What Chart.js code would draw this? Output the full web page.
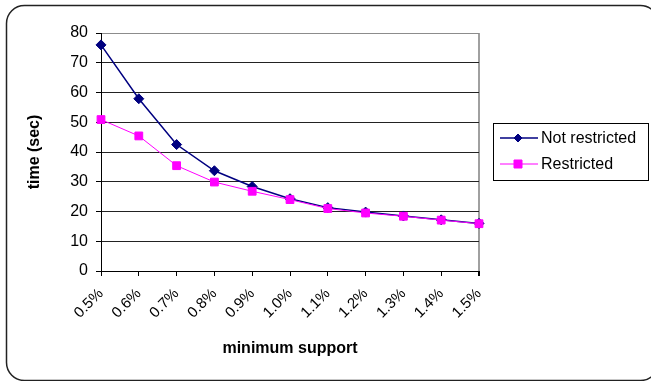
<!DOCTYPE html>
<html>
<head>
<meta charset="utf-8">
<script src="https://cdn.jsdelivr.net/npm/chart.js@4.4.1/dist/chart.umd.min.js"></script>
<style>
    html, body { margin: 0; padding: 0; background: #fff; }
</style>
</head>
<body>
<canvas id="tiempoChart" width="651" height="381"></canvas>
<script>
// minimum support levels on the x axis
const supportLevels = ['0.5%', '0.6%', '0.7%', '0.8%', '0.9%', '1.0%', '1.1%', '1.2%', '1.3%', '1.4%', '1.5%'];
// run time in seconds
const notRestricted = [76.0, 57.9, 42.5, 33.7, 28.4, 24.3, 21.3, 19.8, 18.5, 17.2, 16.0];
const restricted = [50.9, 45.4, 35.4, 29.9, 26.8, 24.0, 21.0, 19.5, 18.4, 17.1, 15.9];
const yMin = 0, yMax = 80, yStep = 10;

const fontFamily = '"Liberation Sans", Arial, sans-serif';

// rounded frame around the whole chart
const framePlugin = {
    id: 'frame',
    beforeDraw(chart) {
        const ctx = chart.ctx;
        ctx.save();
        ctx.fillStyle = '#fff';
        ctx.fillRect(0, 0, chart.width, chart.height);
        ctx.beginPath();
        ctx.roundRect(6.5, 5.5, 652, 375, 18);
        ctx.strokeStyle = '#222';
        ctx.lineWidth = 1.5;
        ctx.stroke();
        ctx.restore();
    }
};

function marker(ctx, style, x, y, color) {
    ctx.fillStyle = color;
    ctx.strokeStyle = color;
    ctx.lineWidth = 1;
    ctx.beginPath();
    if (style === 'rectRot') {
        ctx.moveTo(x - 4, y);
        ctx.lineTo(x, y - 4);
        ctx.lineTo(x + 4, y);
        ctx.lineTo(x, y + 4);
    } else {
        ctx.rect(x - 4, y - 4, 8, 8);
    }
    ctx.closePath();
    ctx.fill();
    ctx.stroke();
}

// boxed legend with line + marker samples
const legendBox = {
    id: 'legendBox',
    afterDraw(chart) {
        const ctx = chart.ctx;
        const x0 = 493.5, y0 = 123.5, w = 155, h = 57;
        ctx.save();
        ctx.fillStyle = '#fff';
        ctx.fillRect(x0, y0, w, h);
        ctx.strokeStyle = '#000';
        ctx.lineWidth = 1;
        ctx.strokeRect(x0, y0, w, h);
        const rows = [138, 164];
        chart.data.datasets.forEach((ds, i) => {
            const y = rows[i];
            ctx.strokeStyle = ds.borderColor;
            ctx.lineWidth = ds.borderWidth;
            ctx.beginPath();
            ctx.moveTo(500, y);
            ctx.lineTo(538, y);
            ctx.stroke();
            marker(ctx, ds.pointStyle, 518, y, ds.pointBackgroundColor);
            ctx.fillStyle = '#000';
            ctx.font = '16px ' + fontFamily;
            ctx.textAlign = 'left';
            ctx.textBaseline = 'middle';
            ctx.fillText(ds.label, 541, y + 1);
        });
        ctx.restore();
    }
};

const lastIndex = supportLevels.length - 1;

new Chart(document.getElementById('tiempoChart'), {
    type: 'line',
    data: {
        labels: supportLevels,
        datasets: [{
                label: 'Not restricted',
                data: notRestricted,
                borderColor: '#000080',
                borderWidth: 1.5,
                pointStyle: 'rectRot',
                pointRadius: 5,
                pointBackgroundColor: '#000080',
                pointBorderColor: '#000080',
                pointBorderWidth: 1,
                tension: 0,
                clip: false,
                order: 2
            }, {
                label: 'Restricted',
                data: restricted,
                borderColor: '#ff00ff',
                borderWidth: 1,
                pointStyle: 'rect',
                pointRadius: 5.5,
                pointBackgroundColor: '#ff00ff',
                pointBorderColor: '#ff00ff',
                pointBorderWidth: 1,
                tension: 0,
                clip: false,
                order: 1
            }]
    },
    options: {
        responsive: false,
        animation: false,
        devicePixelRatio: 1,
        layout: {
            padding: {top: 33, right: 172, left: 0, bottom: 0}
        },
        plugins: {
            legend: {display: false},
            tooltip: {enabled: false}
        },
        scales: {
            x: {
                afterFit(scale) { scale.height = 110; },
                grid: {
                    drawOnChartArea: true,
                    color: ctx => ctx.index === lastIndex ? '#a0a0a0' : 'rgba(0,0,0,0)',
                    lineWidth: ctx => ctx.index === lastIndex ? 2 : 1,
                    tickColor: '#000',
                    tickLength: 5
                },
                border: {color: '#000', width: 1},
                ticks: {
                    color: '#000',
                    minRotation: 45,
                    maxRotation: 45,
                    padding: 9,
                    font: {family: fontFamily, size: 15}
                },
                title: {
                    display: true,
                    text: 'minimum support',
                    color: '#000',
                    font: {family: fontFamily, size: 16, weight: 'bold'},
                    padding: {top: 0, bottom: 23}
                }
            },
            y: {
                min: yMin,
                max: yMax,
                afterFit(scale) { scale.width = 101; },
                grid: {
                    color: ctx => ctx.tick && ctx.tick.value === yMax ? '#8c8c8c' : '#222',
                    tickColor: '#000',
                    tickLength: 5
                },
                border: {color: '#000', width: 1},
                ticks: {
                    stepSize: yStep,
                    color: '#000',
                    padding: 8,
                    font: {family: fontFamily, size: 16}
                },
                title: {
                    display: true,
                    text: 'time (sec)',
                    color: '#000',
                    font: {family: fontFamily, size: 16, weight: 'bold'},
                    padding: {top: 25, bottom: 0}
                }
            }
        }
    },
    plugins: [framePlugin, legendBox]
});
</script>
</body>
</html>
